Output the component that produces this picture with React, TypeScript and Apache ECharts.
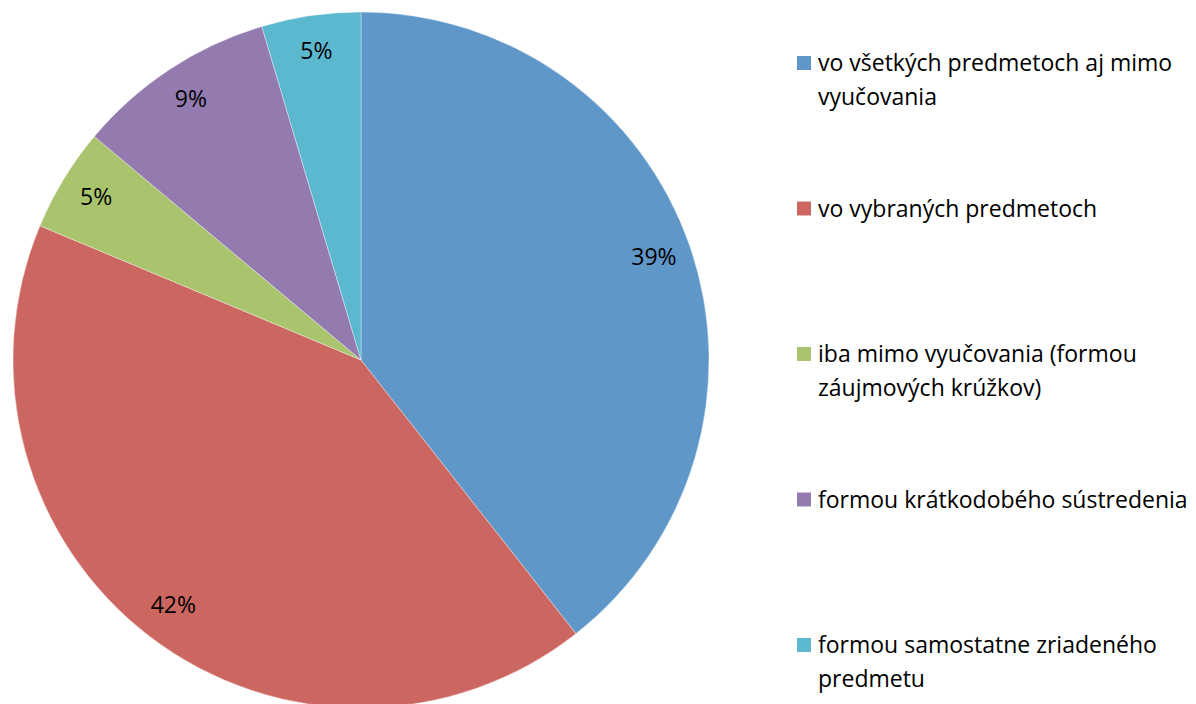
import React, { useEffect, useRef } from "react";
import * as echarts from "echarts";

const categories = [
  "vo všetkých predmetoch aj mimo vyučovania",
  "vo vybraných predmetoch",
  "iba mimo vyučovania (formou záujmových krúžkov)",
  "formou krátkodobého sústredenia",
  "formou samostatne zriadeného predmetu",
];
const legendLines = [
  ["vo všetkých predmetoch aj mimo", "vyučovania"],
  ["vo vybraných predmetoch"],
  ["iba mimo vyučovania (formou", "záujmových krúžkov)"],
  ["formou krátkodobého sústredenia"],
  ["formou samostatne zriadeného", "predmetu"],
];
const values = [39.4, 41.9, 4.8, 9.3, 4.6];
const colors = ["#6097C9", "#CC6660", "#A9C46D", "#937BB0", "#5CB8CF"];

const FONT = "'Open Sans', Lato, sans-serif";

export default function App() {
  const ref = useRef<HTMLDivElement>(null);
  useEffect(() => {
    document.body.style.margin = "0";
    const chart = echarts.init(ref.current!, undefined, { renderer: "svg" });
    const data = categories.map((name, i) => ({
      name,
      value: values[i],
      itemStyle: { color: colors[i] },
    }));
    const graphics: any[] = [];
    legendLines.forEach((lines, i) => {
      const cy = 63 + i * 145.5;
      graphics.push({
        type: "rect",
        shape: { x: 797, y: cy - 7, width: 14, height: 14 },
        style: { fill: colors[i] },
      });
      graphics.push({
        type: "text",
        x: 818,
        y: cy - 18,
        style: {
          text: lines.join("\n"),
          font: `23px ${FONT}`,
          fill: "#000",
          lineHeight: 34,
          textVerticalAlign: "top",
        },
      });
    });
    chart.setOption({
      animation: false,
      backgroundColor: "#fff",
      graphic: graphics,
      series: [
        {
          type: "pie",
          center: [361, 360],
          radius: [0, 348],
          startAngle: 90,
          clockwise: true,
          silent: true,
          label: { show: false },
          labelLine: { show: false },
          itemStyle: { borderColor: "rgba(255,255,255,0.6)", borderWidth: 0.6 },
          data,
        },
        {
          type: "pie",
          center: [361, 357],
          radius: [266, 348],
          startAngle: 90,
          clockwise: true,
          silent: true,
          itemStyle: { color: "transparent", borderWidth: 0 },
          label: {
            show: true,
            position: "inside",
            color: "#000",
            fontSize: 23,
            fontFamily: FONT,
            formatter: (p: any) => Math.round(p.value) + "%",
          },
          labelLine: { show: false },
          data: categories.map((name, i) => ({ name, value: values[i] })),
        },
      ],
    });
    return () => chart.dispose();
  }, []);
  return <div ref={ref} style={{ width: 1196, height: 704 }} />;
}
